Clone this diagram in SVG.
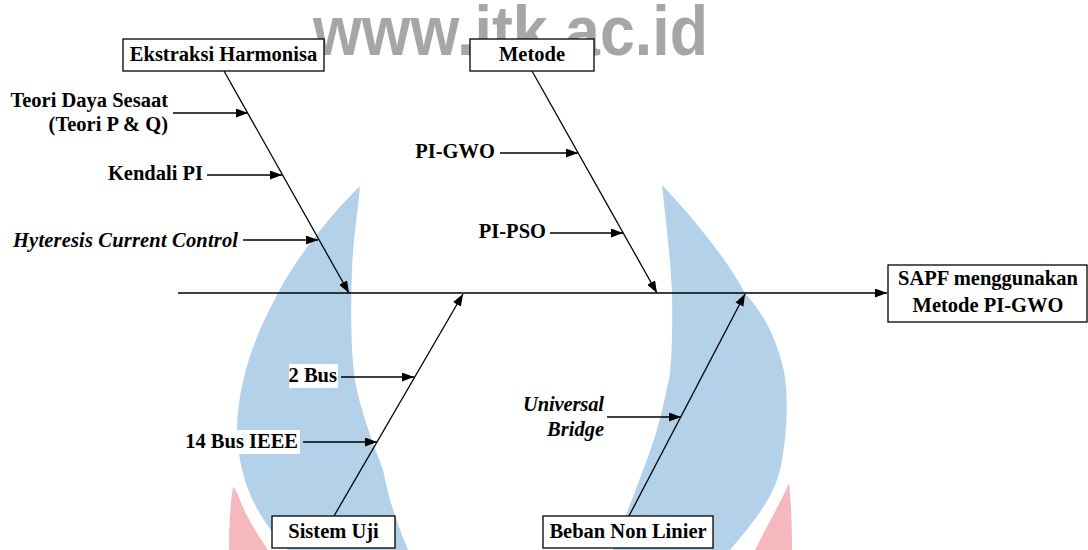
<svg xmlns="http://www.w3.org/2000/svg" width="1088" height="550" viewBox="0 0 1088 550">
<style>
.t{font-family:"Liberation Serif","Times New Roman",serif;font-weight:bold;font-size:20.5px;fill:#000}
.i{font-style:italic}
.box{fill:#fff;stroke:#000;stroke-width:1.3}
.ln{stroke:#000;stroke-width:1.3;fill:none}
.ar{marker-end:url(#ah)}
.blue{fill:#b3d1e8}
.pink{fill:#f5b8bd}
.bg{fill:#fff}
</style>
<defs>
<marker id="ah" markerUnits="userSpaceOnUse" markerWidth="12" markerHeight="9" refX="12" refY="4.5" orient="auto">
<path d="M0,0 L12,4.5 L0,9 Z" fill="#000"/>
</marker>
</defs>
<rect width="1088" height="550" fill="#fff"/>
<g id="background">
<text x="313" y="55" font-family="Liberation Sans, Arial, sans-serif" font-weight="bold" font-size="70" fill="#a6a6a6" textLength="395" lengthAdjust="spacingAndGlyphs">www.itk.ac.id</text>
<path class="blue" d="M360,186 C330,215 295,260 278,293 C255,335 238,380 237,430 C238,470 250,505 275,535 L288,550 L408,550 C398,525 390,505 383,470 C372,440 360,410 355,380 C350,345 351,300 352,270 C353,240 358,210 360,186 Z"/>
<path class="blue" d="M662,185 C665,215 670,250 672,293 C673,340 671,380 667,387 C663,410 655,440 643,470 C632,500 622,525 613,550 L730,550 C755,520 777,495 782,460 C789,420 788,380 781,360 C773,330 760,310 745,293 C730,265 700,225 662,185 Z"/>
<path class="pink" d="M233,487 C230,505 229,530 229,550 L268,550 C258,535 245,515 240,500 C237,492 235,488 233,487 Z"/>
<path class="pink" d="M789,483 C782,500 770,520 755,550 L792,550 C792,525 791,500 789,483 Z"/>
</g>
<g id="connectors">
<line class="ln ar" x1="178" y1="293" x2="887" y2="293"/>
<line class="ln ar" x1="224" y1="71" x2="349" y2="293"/>
<line class="ln ar" x1="532" y1="71" x2="657" y2="293"/>
<line class="ln ar" x1="334" y1="516" x2="463" y2="294"/>
<line class="ln ar" x1="629" y1="516" x2="745" y2="294"/>
<line class="ln ar" x1="173" y1="113" x2="248" y2="113"/>
<line class="ln ar" x1="207" y1="175" x2="282" y2="175"/>
<line class="ln ar" x1="243" y1="240" x2="318" y2="240"/>
<line class="ln ar" x1="500" y1="153" x2="578" y2="153"/>
<line class="ln ar" x1="550" y1="233" x2="623" y2="233"/>
<line class="ln ar" x1="341" y1="377" x2="414" y2="377"/>
<line class="ln ar" x1="303" y1="442" x2="377" y2="442"/>
<line class="ln ar" x1="607" y1="417" x2="681" y2="417"/>
</g>
<g id="ekstraksi">
<rect class="box" x="123" y="39" width="201" height="32"/>
<text class="t" x="223.5" y="61" text-anchor="middle">Ekstraksi Harmonisa</text>
</g>
<g id="metode">
<rect class="box" x="470" y="39" width="124" height="32"/>
<text class="t" x="532" y="61" text-anchor="middle">Metode</text>
</g>
<g id="sapf">
<rect class="box" x="888" y="265" width="199" height="57"/>
<text class="t" x="988" y="285" text-anchor="middle">SAPF menggunakan</text>
<text class="t" x="988" y="312" text-anchor="middle">Metode PI-GWO</text>
</g>
<g id="sistem-uji">
<rect class="box" x="272" y="516" width="123" height="32"/>
<text class="t" x="333.5" y="538" text-anchor="middle">Sistem Uji</text>
</g>
<g id="beban">
<rect class="box" x="543" y="516" width="170" height="32"/>
<text class="t" x="628" y="538" text-anchor="middle">Beban Non Linier</text>
</g>
<g id="teori">
<text class="t" x="168" y="107" text-anchor="end">Teori Daya Sesaat</text>
<text class="t" x="168" y="131" text-anchor="end">(Teori P &amp; Q)</text>
</g>
<g id="kendali"><text class="t" x="203" y="180" text-anchor="end">Kendali PI</text></g>
<g id="hyteresis"><text class="t i" x="13" y="247" textLength="225" lengthAdjust="spacing">Hyteresis Current Control</text></g>
<g id="pi-gwo"><text class="t" x="495" y="158" text-anchor="end">PI-GWO</text></g>
<g id="pi-pso"><text class="t" x="546" y="238" text-anchor="end">PI-PSO</text></g>
<g id="bus2">
<rect class="bg" x="289" y="364" width="49" height="24"/>
<text class="t" x="337" y="382" text-anchor="end">2 Bus</text>
</g>
<g id="bus14">
<rect class="bg" x="187" y="430" width="113" height="24"/>
<text class="t" x="298" y="448" text-anchor="end">14 Bus IEEE</text>
</g>
<g id="universal">
<text class="t i" x="523" y="411" textLength="81" lengthAdjust="spacing">Universal</text>
<text class="t i" x="604" y="436" text-anchor="end">Bridge</text>
</g>
</svg>
